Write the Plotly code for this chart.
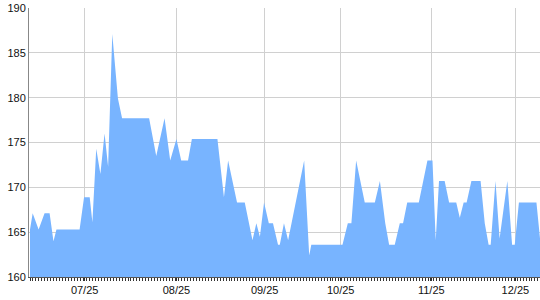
import plotly.graph_objects as go

# x positions (in daily tick units) and values of the area vertices
x_pos = [0, 0.9, 2.9, 4.9, 6.6, 7.9, 8.9, 16.7, 18.2, 20.1, 21.0, 22.3, 23.7, 25.1, 26.3, 27.7,
         29.6, 31.0, 40.1, 42.5, 45.3, 47.2, 49.3, 50.9, 53.2, 54.5, 63.1, 65.3, 66.7, 69.7,
         72.3, 74.9, 76.2, 77.4, 78.8, 80.4, 81.8, 83.5, 84.1, 85.5, 86.9, 92.3, 94.0, 94.7,
         105.2, 107.0, 108.2, 109.8, 112.7, 116.1, 117.8, 119.6, 120.9, 122.8, 124.5, 125.6,
         127.0, 130.9, 133.8, 135.5, 136.6, 137.7, 139.6, 141.1, 143.5, 144.7, 146.0, 147.0,
         148.6, 151.7, 153.1, 154.4, 155.1, 156.7, 158.1, 160.7, 162.3, 163.2, 164.6, 170.5, 171.7]
values = [165.3, 167.1, 165.3, 167.1, 167.1, 164.0, 165.3, 165.3, 168.9, 168.9, 166.1, 174.3,
          171.5, 176.0, 172.3, 187.1, 179.9, 177.7, 177.7, 173.5, 177.7, 173.0, 175.4, 173.0,
          173.0, 175.4, 175.4, 168.9, 173.0, 168.3, 168.3, 164.1, 166.0, 164.5, 168.3, 166.0,
          166.0, 163.6, 163.6, 166.0, 164.1, 173.0, 162.4, 163.6, 163.6, 166.0, 166.0, 173.0,
          168.3, 168.3, 170.7, 166.0, 163.6, 163.6, 166.0, 166.0, 168.3, 168.3, 173.0, 173.0,
          164.1, 170.7, 170.7, 168.3, 168.3, 166.6, 168.3, 168.3, 170.7, 170.7, 166.0, 163.6,
          163.6, 170.7, 164.3, 170.7, 163.6, 163.6, 168.3, 168.3, 164.3]

tick_pos = [18.4, 49.3, 79.0, 104.6, 135.1, 163.4]
tick_labels = ["07/25", "08/25", "09/25", "10/25", "11/25", "12/25"]

x_range = [-0.337, 171.7]
font = dict(family="Liberation Sans, Arial, sans-serif", size=11, color="#111111")

fig = go.Figure()
fig.add_trace(go.Scatter(x=x_pos, y=values, mode="lines", fill="tozeroy",
                         line=dict(width=0, color="#78B4FF"), fillcolor="#78B4FF",
                         showlegend=False, hoverinfo="skip"))
fig.add_trace(go.Scatter(x=[], y=[], xaxis="x2", showlegend=False))

fig.update_layout(
    width=540, height=300,
    margin=dict(l=29, r=0, t=8, b=23, pad=0),
    paper_bgcolor="white", plot_bgcolor="white",
    font=font,
    xaxis=dict(range=x_range, tickmode="array", tickvals=tick_pos, ticktext=tick_labels,
               showgrid=True, gridcolor="#D0D0D0", gridwidth=1, zeroline=False,
               showline=True, linecolor="#555555", linewidth=1,
               ticks="outside", ticklen=3, tickcolor="#333333", tickfont=font),
    xaxis2=dict(range=x_range, overlaying="x", side="bottom", tickmode="linear",
                tick0=0, dtick=1, ticks="outside", ticklen=3, tickcolor="#333333",
                showticklabels=False, showgrid=False, zeroline=False, showline=False),
    yaxis=dict(range=[160, 190], tickmode="linear", tick0=160, dtick=5,
               showgrid=True, gridcolor="#D0D0D0", gridwidth=1, zeroline=False,
               showline=True, linecolor="#888888", linewidth=1, ticks="",
               tickfont=font),
)

fig.write_html("out.html")
